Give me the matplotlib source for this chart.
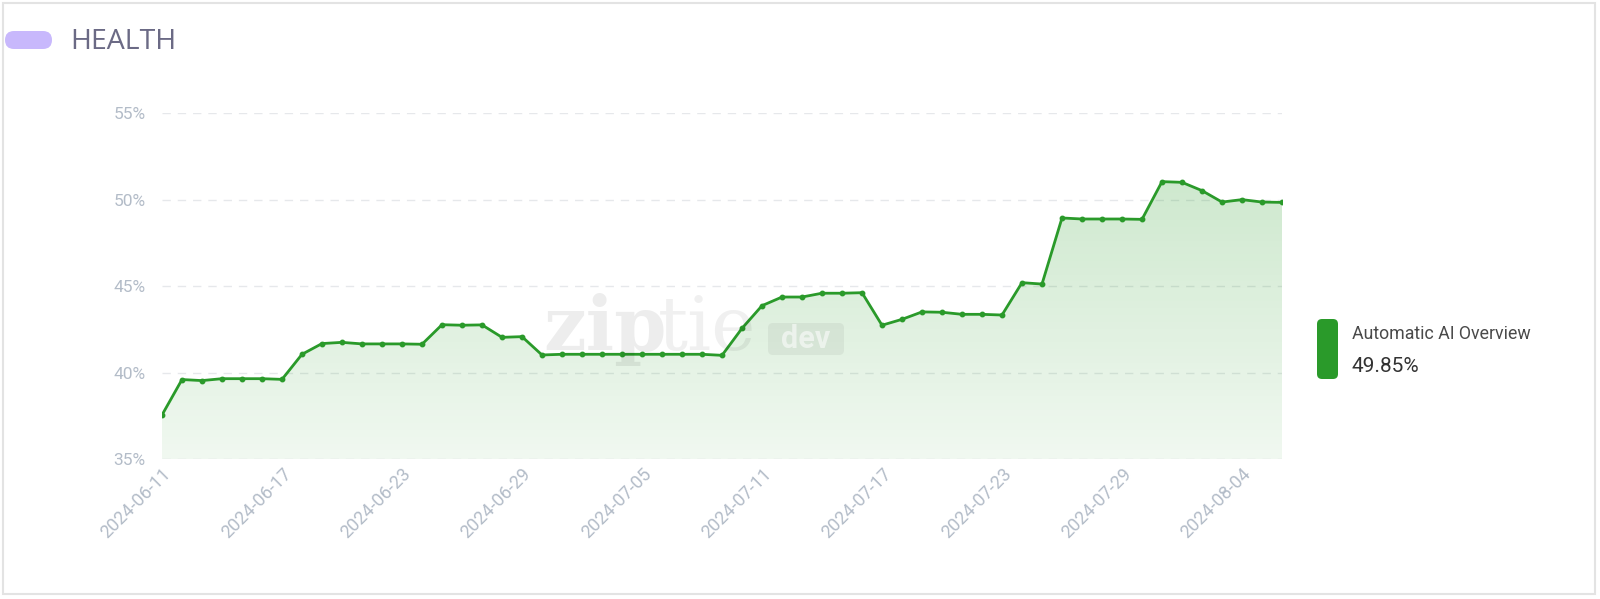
import numpy as np
import matplotlib.pyplot as plt
import matplotlib.dates as mdates
from matplotlib.patches import FancyBboxPatch, Rectangle
from matplotlib.ticker import FuncFormatter

# data
dates = np.arange(np.datetime64("2024-06-11"), np.datetime64("2024-08-07"))
values = [37.56, 39.61, 39.55, 39.66, 39.66, 39.66, 39.62, 41.07, 41.69, 41.76,
          41.67, 41.67, 41.67, 41.65, 42.78, 42.75, 42.77, 42.05, 42.09, 41.03,
          41.07, 41.07, 41.07, 41.07, 41.07, 41.07, 41.07, 41.07, 41.01, 42.57,
          43.88, 44.38, 44.38, 44.60, 44.60, 44.63, 42.75, 43.09, 43.52, 43.50,
          43.38, 43.38, 43.34, 45.21, 45.13, 48.95, 48.89, 48.89, 48.89, 48.87,
          51.05, 51.01, 50.53, 49.87, 50.01, 49.87, 49.85]
series_name = "Automatic AI Overview"
title = "HEALTH"
yticks = [35, 40, 45, 50, 55]

green = "#2a9a2a"
tick_col = "#b3bcc8"
H = 599

fig = plt.figure(figsize=(16, 5.99), dpi=100)
fig.patch.set_facecolor("white")


def box(x0, ytop, w, h, r, **kw):
    # rounded box in pixel coords (y from top)
    p = FancyBboxPatch((x0, H - ytop - h), w, h,
                       boxstyle=f"round,pad=0,rounding_size={r}",
                       transform=None, edgecolor="none", **kw)
    fig.patches.append(p)


# outer card border
fig.patches.append(Rectangle((3 / 1600, 5 / 599), 1592 / 1600, 591 / 599,
                             transform=fig.transFigure, fill=False,
                             edgecolor="#e3e3e3", linewidth=1.5))
# title pill + text
box(5, 31, 47, 18, 9, facecolor="#c8b8fc")
fig.text(70 / 1600, 1 - 42 / 599, title, fontsize=20.5, color="#6b6a85",
         family="Open Sans", va="center", ha="left")

ax = fig.add_axes([162 / 1600, 1 - 459.3 / 599, 1120 / 1600, 346 / 599])
x = mdates.date2num(dates.astype("datetime64[D]").astype(object))
y = np.array(values)

ax.set_xlim(x[0], x[-1])
ax.set_ylim(35, 55)

# gradient fill under the line
poly = ax.fill_between(x, y, 35, color="none", linewidth=0)
grad = np.zeros((200, 2, 4))
grad[:, :, :3] = np.array([0.17, 0.62, 0.17])
grad[:, :, 3] = np.linspace(0.07, 0.24, 200)[:, None]
img = ax.imshow(grad, extent=[x[0], x[-1], 35, 52], origin="lower",
                aspect="auto", zorder=1)
img.set_clip_path(poly.get_paths()[0], transform=ax.transData)

ax.plot(x, y, color=green, linewidth=2.0, zorder=3, solid_joinstyle="round")
ax.plot(x, y, "o", color=green, markersize=3.2, zorder=4)

# grid
for v in yticks:
    ax.axhline(v, color="#e6e8eb", linestyle=(0, (6, 5)), linewidth=1.0, zorder=0)

for s in ax.spines.values():
    s.set_visible(False)
ax.set_yticks(yticks)
ax.yaxis.set_major_formatter(FuncFormatter(lambda v, p: f"{v:.0f}%"))
ax.tick_params(axis="y", length=0, pad=12, labelsize=12.5, labelcolor=tick_col)
for lbl in ax.get_yticklabels():
    lbl.set_family("Roboto")

ax.set_xticks(x[::6])
ax.xaxis.set_major_formatter(mdates.DateFormatter("%Y-%m-%d"))
ax.tick_params(axis="x", length=0, pad=4, labelsize=13, labelcolor=tick_col)
for lbl in ax.get_xticklabels():
    lbl.set_rotation(45)
    lbl.set_ha("right")
    lbl.set_rotation_mode("anchor")
    lbl.set_family("Roboto")

# watermark
fig.text(543 / 1600, 1 - 350 / 599, "zip", fontsize=54, color="#000000", alpha=0.07,
         family="DejaVu Serif", weight="bold", va="baseline", zorder=5)
fig.text(658 / 1600, 1 - 350 / 599, "tie", fontsize=54, color="#000000", alpha=0.06,
         family="DejaVu Serif", weight="light", va="baseline", zorder=5)
box(768, 323, 76, 32, 5, facecolor="#000000", alpha=0.05, zorder=5)
fig.text(806 / 1600, 1 - 339 / 599, "dev", fontsize=22, color="white", alpha=0.55,
         family="Roboto", weight="bold", ha="center", va="center", zorder=6)

# legend
box(1317, 319, 21, 60, 5, facecolor=green)
fig.text(1352 / 1600, 1 - 334 / 599, series_name, fontsize=12.8, color="#4a4a4a",
         family="Roboto", va="center", ha="left")
fig.text(1352 / 1600, 1 - 366 / 599, f"{values[-1]:.2f}%", fontsize=15,
         color="#333333", family="Roboto", va="center", ha="left")

fig.savefig("out.png", dpi=100)
